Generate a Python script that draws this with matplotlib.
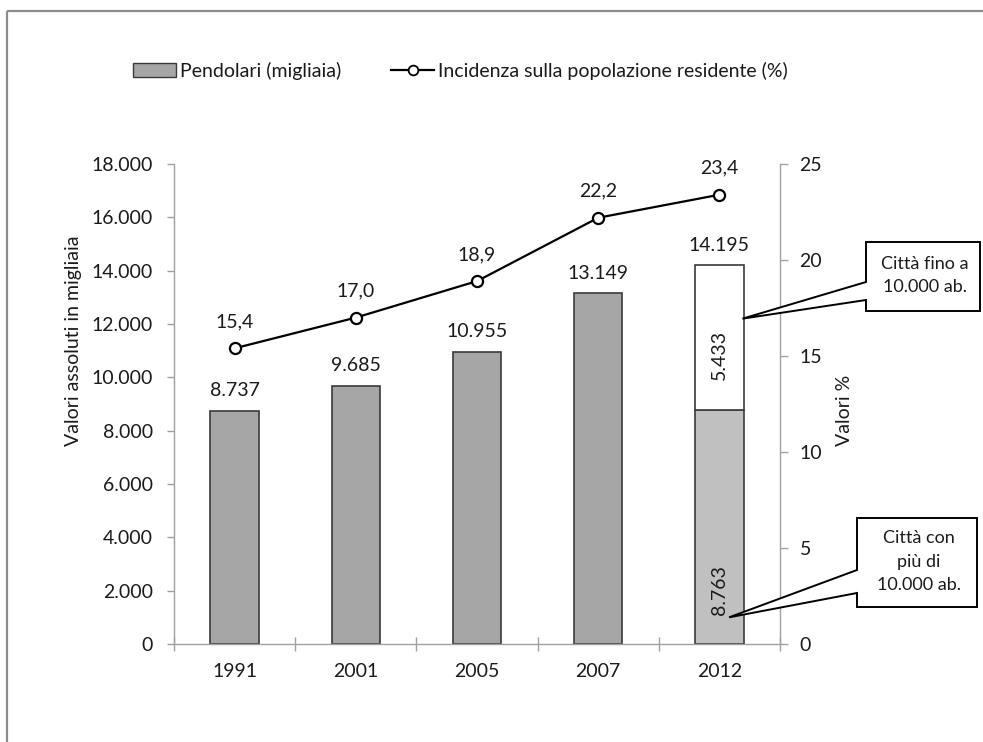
import matplotlib
matplotlib.use("Agg")
import matplotlib.pyplot as plt
from matplotlib.patches import Patch, Polygon
from matplotlib.lines import Line2D
from matplotlib.ticker import FixedLocator, FuncFormatter

plt.rcParams['font.family'] = ['Lato', 'DejaVu Sans']

# --- data ---
years = ['1991', '2001', '2005', '2007', '2012']
pendolari = [8737, 9685, 10955, 13149, 14195]          # migliaia
incidenza = [15.4, 17.0, 18.9, 22.2, 23.4]              # %
quota_grandi_2012 = 8763     # città con più di 10.000 ab.
quota_piccole_2012 = 5433    # città fino a 10.000 ab.
left_ticks = [0, 2000, 4000, 6000, 8000, 10000, 12000, 14000, 16000, 18000]
right_ticks = [0, 5, 10, 15, 20, 25]

W, H = 983, 742
fig = plt.figure(figsize=(W / 100, H / 100), dpi=100)
fig.patch.set_facecolor('white')


def fx(px):
    return px / W


def fy(py):
    return 1 - py / H


ax = fig.add_axes([fx(174), fy(644), fx(780) - fx(174), fy(164) - fy(644)])
ax2 = ax.twinx()

axis_grey = '#a0a0a0'
text_col = '#1a1a1a'
bar_col = '#a6a6a6'
edge_col = '#3a3a3a'
fs = 14

xs = list(range(len(years)))
bw = 0.4

# bars: first four years as single bars, 2012 split into two parts
ax.bar(xs[:-1], pendolari[:-1], width=bw, color=bar_col, edgecolor=edge_col,
       linewidth=1.2, zorder=2)
ax.bar(xs[-1], quota_grandi_2012, width=bw, color='#c0c0c0', edgecolor=edge_col,
       linewidth=1.2, zorder=2)
ax.bar(xs[-1], quota_piccole_2012, bottom=quota_grandi_2012, width=bw,
       color='white', edgecolor=edge_col, linewidth=1.2, zorder=2)


def fmt_it(v):
    return f"{int(round(v)):,}".replace(',', '.')


for x, v in zip(xs, pendolari):
    ax.annotate(fmt_it(v), (x, v), xytext=(0, 14.5), textcoords='offset points',
                ha='center', va='center', fontsize=fs, color=text_col)

ax.text(xs[-1], quota_grandi_2012 + 0.38 * quota_piccole_2012,
        fmt_it(quota_piccole_2012), rotation=90, ha='center', va='center',
        fontsize=fs, color=text_col)
ax.text(xs[-1], 0.23 * quota_grandi_2012, fmt_it(quota_grandi_2012),
        rotation=90, ha='center', va='center', fontsize=fs, color=text_col)

ax.set_xlim(-0.5, len(years) - 0.5)
ax.set_ylim(0, 18000)
ax.yaxis.set_major_locator(FixedLocator(left_ticks))
ax.yaxis.set_major_formatter(FuncFormatter(lambda v, p: fmt_it(v)))
ax.xaxis.set_major_locator(FixedLocator([i - 0.5 for i in range(len(years) + 1)]))
ax.xaxis.set_major_formatter(FuncFormatter(lambda v, p: ''))
ax.set_xticks(xs, years, minor=True)
ax.tick_params(axis='x', which='major', direction='inout', length=10,
               color=axis_grey, width=1)
ax.tick_params(axis='x', which='minor', length=0, pad=14, labelsize=fs,
               labelcolor=text_col)
ax.tick_params(axis='y', direction='out', length=5, color=axis_grey, width=1,
               pad=10, labelsize=fs, labelcolor=text_col)
for s in ['top', 'right']:
    ax.spines[s].set_visible(False)
for s in ['left', 'bottom']:
    ax.spines[s].set_color(axis_grey)
    ax.spines[s].set_linewidth(1)

# line on the secondary axis
ax2.plot(xs, incidenza, color='black', lw=1.6, marker='o', markersize=8,
         markerfacecolor='white', markeredgecolor='black', markeredgewidth=1.6,
         zorder=5)
for x, v in zip(xs, incidenza):
    ax2.annotate(f"{v:.1f}".replace('.', ','), (x, v), xytext=(0, 19),
                 textcoords='offset points', ha='center', va='center',
                 fontsize=fs, color=text_col)
ax2.set_ylim(0, 25)
ax2.yaxis.set_major_locator(FixedLocator(right_ticks))
ax2.tick_params(axis='y', direction='out', length=6, color=axis_grey, width=1,
                pad=8, labelsize=fs, labelcolor=text_col)
for s in ['top', 'left', 'bottom']:
    ax2.spines[s].set_visible(False)
ax2.spines['right'].set_color(axis_grey)
ax2.spines['right'].set_linewidth(1)

# axis titles
fig.text(fx(73), fy(341), 'Valori assoluti in migliaia', rotation=90,
         ha='center', va='center', fontsize=fs, color=text_col)
fig.text(fx(845), fy(410), 'Valori %', rotation=90,
         ha='center', va='center', fontsize=fs, color=text_col)

# legend
handles = [
    Patch(facecolor=bar_col, edgecolor=edge_col, linewidth=1.0),
    Line2D([], [], color='black', lw=1.6, marker='o', markersize=7,
           markerfacecolor='white', markeredgecolor='black', markeredgewidth=1.3),
]
labels = ['Pendolari (migliaia)', 'Incidenza sulla popolazione residente (%)']
fig.legend(handles, labels, loc='center left', bbox_to_anchor=(fx(133), fy(71)),
           ncol=2, frameon=False, fontsize=fs, borderpad=0, borderaxespad=0,
           handlelength=2.2, handleheight=0.7, handletextpad=0.2,
           columnspacing=2.6, labelcolor=text_col)

fig.canvas.draw()


# callouts: box with a wedge pointing into the 2012 bar
def callout(box, wedge_y, tip_data, text):
    x0, y0, x1, y1 = box
    tip = ax.transData.transform(tip_data)
    tip_px = (tip[0], H - tip[1])
    pts_px = [(x0, y0), (x1, y0), (x1, y1), (x0, y1), (x0, wedge_y[1]),
              tip_px, (x0, wedge_y[0])]
    pts = [(fx(px), fy(py)) for px, py in pts_px]
    fig.patches.append(Polygon(pts, closed=True, facecolor='white',
                               edgecolor='black', linewidth=1.4,
                               transform=fig.transFigure, zorder=10))
    fig.text(fx((x0 + x1) / 2 + 2), fy((y0 + y1) / 2 - 1), text, ha='center',
             va='center', fontsize=13, color=text_col, zorder=11,
             linespacing=1.6)


callout((866, 242, 980, 311), (282, 300), (xs[-1] + 0.19, 12200),
        'Città fino a\n10.000 ab.')
callout((857, 518, 977, 607), (570, 593), (xs[-1] + 0.08, 1000),
        'Città con\npiù di\n10.000 ab.')

# outer frame
fig.lines.append(Line2D([fx(7), fx(1000)], [fy(11), fy(11)], color='#8c8c8c',
                        lw=1.6, solid_capstyle='butt', transform=fig.transFigure))
fig.lines.append(Line2D([fx(7), fx(7)], [fy(11), fy(760)], color='#8c8c8c',
                        lw=1.6, solid_capstyle='butt', transform=fig.transFigure))

fig.savefig('out.png', dpi=100)
